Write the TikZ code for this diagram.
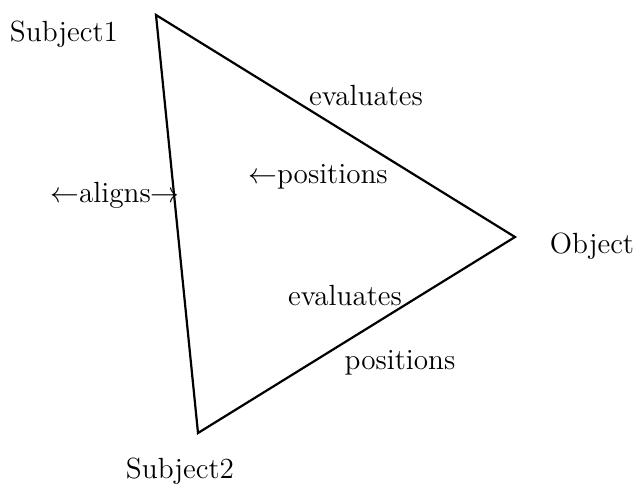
\documentclass[tikz,border=0pt]{standalone}
\begin{document}
\begin{tikzpicture}[x=0.5pt,y=-0.5pt,
  lbl/.style={font=\fontsize{14.6}{17}\selectfont, inner sep=0pt, anchor=base},
  edge/.style={line width=1.1pt, line join=miter}]
\useasboundingbox (0,0) rectangle (635,487);
\coordinate (s1) at (156,15);
\coordinate (ob) at (515,237);
\coordinate (s2) at (198,433);
\draw[edge] (s1) -- (ob) -- (s2) -- cycle;
\node[lbl] (t1) at (64,41) {Subject1};
\node[lbl] (t2) at (592,253) {Object};
\node[lbl] (t3) at (180,478) {Subject2};
\node[lbl] (e1) at (366,105) {evaluates};
\node[lbl] (p1) at (318,183) {$\leftarrow$positions};
\node[lbl] (a1) at (115,202) {$\leftarrow$aligns$\rightarrow$};
\node[lbl] (e2) at (345,305) {evaluates};
\node[lbl] (p2) at (400,369) {positions};
\end{tikzpicture}
\end{document}
